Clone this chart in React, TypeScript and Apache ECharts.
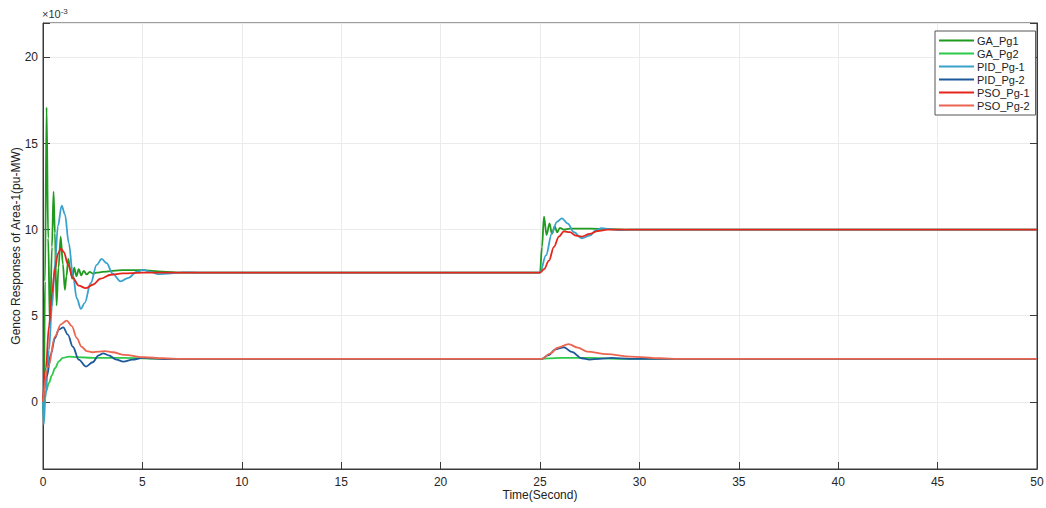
import React, { useEffect, useRef } from "react";
import * as echarts from "echarts";

const seriesNames = ["GA_Pg1", "GA_Pg2", "PID_Pg-1", "PID_Pg-2", "PSO_Pg-1", "PSO_Pg-2"];
const seriesColors = ["#1f9a1f", "#2fc94a", "#38a2cc", "#1d5a9c", "#e4261c", "#ec6550"];

const xTicks = [0, 5, 10, 15, 20, 25, 30, 35, 40, 45, 50];
const yTicks = [0, 5, 10, 15, 20];

// values in units of 1e-3 pu-MW, time in seconds
const gaPg1 = [
  [0, 0], [0.04, -0.9], [0.1, 7], [0.18, 17.1], [0.26, 9.5], [0.35, 4.3], [0.45, 9], [0.53, 12.2],
  [0.6, 9.8], [0.68, 5.6], [0.78, 7.8], [0.89, 9.6], [1.0, 8.0], [1.1, 6.5], [1.18, 7.3], [1.27, 8.3],
  [1.37, 7.7], [1.47, 7.15], [1.57, 7.8], [1.68, 7.3], [1.8, 7.7], [1.92, 7.35], [2.05, 7.6], [2.2, 7.4],
  [2.35, 7.55], [2.5, 7.45], [2.7, 7.5], [3.0, 7.55], [4, 7.65], [5, 7.65], [6, 7.56], [7, 7.5], [8, 7.5],
  [24.95, 7.5], [25.0, 7.5], [25.1, 9.0], [25.2, 10.75], [25.33, 9.69], [25.48, 10.36], [25.6, 9.75],
  [25.74, 10.2], [25.86, 9.85], [26.0, 10.1], [26.2, 10.0], [26.5, 10.06], [27.5, 10.06], [28.5, 10.03],
  [29.5, 10.0], [50, 10],
];
const gaPg2 = [
  [0, 0], [0.15, 0.6], [0.3, 1.1], [0.45, 1.55], [0.6, 1.95], [0.8, 2.35], [1.0, 2.55], [1.3, 2.63],
  [1.7, 2.6], [2.5, 2.55], [4, 2.55], [6, 2.5], [25, 2.5], [26, 2.55], [27.5, 2.55], [29, 2.5], [50, 2.5],
];
const pidPg1 = [
  [0, 0], [0.04, -1.3], [0.12, 0.2], [0.3, 3], [0.45, 5.5], [0.6, 8], [0.75, 10.2], [0.94, 11.4],
  [1.1, 10.9], [1.3, 9.2], [1.5, 7.4], [1.7, 6], [1.91, 5.4], [2.1, 5.75], [2.4, 6.9], [2.7, 7.95],
  [2.95, 8.3], [3.2, 8.05], [3.5, 7.45], [3.9, 7.0], [4.3, 7.2], [4.7, 7.55], [5.05, 7.66], [5.4, 7.55],
  [5.8, 7.42], [6.3, 7.45], [7, 7.52], [8, 7.5], [24.95, 7.5], [25.0, 7.5], [25.3, 8.5], [25.6, 9.8],
  [25.85, 10.45], [26.1, 10.65], [26.4, 10.35], [26.7, 9.85], [27.1, 9.5], [27.5, 9.65], [27.8, 9.95],
  [28.1, 10.08], [28.5, 10.03], [29, 9.97], [29.6, 10.0], [50, 10],
];
const pidPg2 = [
  [0, 0], [0.2, 1.5], [0.4, 2.8], [0.6, 3.7], [0.8, 4.2], [1.02, 4.33], [1.25, 3.9], [1.5, 3.2],
  [1.8, 2.45], [2.16, 2.05], [2.5, 2.3], [2.8, 2.7], [3.03, 2.82], [3.3, 2.7], [3.7, 2.45], [4.04, 2.34],
  [4.5, 2.45], [5, 2.55], [5.5, 2.53], [6, 2.48], [7, 2.5], [25.1, 2.5], [25.4, 2.7], [25.8, 3.05],
  [26.2, 3.17], [26.6, 2.9], [27.1, 2.53], [27.5, 2.45], [28, 2.5], [28.6, 2.55], [29.5, 2.5], [50, 2.5],
];
const psoPg1 = [
  [0, 0], [0.15, 2.0], [0.3, 4.4], [0.45, 6.3], [0.6, 7.7], [0.75, 8.6], [0.9, 8.9], [1.05, 8.7],
  [1.25, 8.0], [1.5, 7.2], [1.8, 6.75], [2.15, 6.6], [2.5, 6.8], [2.9, 7.15], [3.4, 7.38], [4, 7.46],
  [5, 7.5], [24.95, 7.5], [25.0, 7.5], [25.2, 7.7], [25.45, 8.2], [25.7, 9.0], [25.95, 9.6], [26.2, 9.9],
  [26.5, 9.85], [26.8, 9.65], [27.1, 9.6], [27.5, 9.75], [27.9, 9.92], [28.4, 10.0], [29, 10.0], [50, 10],
];
const psoPg2 = [
  [0, 0], [0.27, 2.05], [0.6, 3.79], [0.9, 4.5], [1.19, 4.72], [1.45, 4.4], [1.7, 3.7], [1.94, 3.2],
  [2.2, 2.95], [2.5, 2.88], [2.8, 2.92], [3.12, 2.95], [3.5, 2.88], [4.1, 2.73], [5.1, 2.59], [6, 2.53],
  [7, 2.5], [25.1, 2.5], [25.5, 2.8], [25.9, 3.15], [26.44, 3.35], [26.9, 3.15], [27.36, 2.92],
  [28.37, 2.77], [29.54, 2.63], [31.05, 2.53], [32, 2.5], [50, 2.5],
];

const seriesData = [gaPg1, gaPg2, pidPg1, pidPg2, psoPg1, psoPg2];

export default function App() {
  const ref = useRef<HTMLDivElement>(null);
  useEffect(() => {
    if (!ref.current) return;
    const chart = echarts.init(ref.current, undefined, { renderer: "svg" });
    const font = "Liberation Sans, Arial, sans-serif";
    const axisColor = "#3a3a3a";
    const yFmt = (v: number) => (yTicks.indexOf(Math.round(v * 1000) / 1000) >= 0 ? String(v) : "");
    chart.setOption({
      animation: false,
      backgroundColor: "#ffffff",
      textStyle: { fontFamily: font },
      grid: {
        left: 43, right: 9, top: 23, bottom: 39,
        outerBoundsMode: "none",
        containLabel: false,
        show: true, borderColor: axisColor, borderWidth: 1, backgroundColor: "transparent",
      },
      legend: {
        orient: "vertical",
        left: 935,
        top: 31,
        data: seriesNames,
        icon: "rect",
        itemWidth: 35,
        itemHeight: 2,
        itemGap: 0,
        padding: [3, 6, 3, 4],
        borderColor: "#555",
        borderWidth: 1,
        backgroundColor: "#ffffff",
        textStyle: { fontSize: 11, color: "#222", fontFamily: font, lineHeight: 13, padding: [0, 0, 0, -2] },
      },
      xAxis: {
        type: "value",
        min: 0,
        max: 50,
        interval: 5,
        name: "Time(Second)",
        nameLocation: "middle",
        nameGap: 20,
        nameMoveOverlap: false,
        nameTextStyle: { fontSize: 12, color: "#222", fontFamily: font },
        axisLine: { show: true, onZero: false, lineStyle: { color: axisColor } },
        axisTick: { show: true, inside: true, length: 7, lineStyle: { color: axisColor } },
        axisLabel: { fontSize: 12, color: "#262626", margin: 7, fontFamily: font, formatter: (v: number) => (xTicks.indexOf(v) >= 0 ? String(v) : "") },
        splitLine: { show: true, lineStyle: { color: "#ebebeb", width: 1 } },
      },
      yAxis: [
        {
          type: "value",
          min: -3.9,
          max: 22,
          splitNumber: 5,
          name: "Genco Responses of Area-1(pu-MW)",
          nameLocation: "middle",
          nameGap: 21,
          nameRotate: 90,
          nameMoveOverlap: false,
          nameTextStyle: { fontSize: 12, color: "#222", fontFamily: font },
          axisLine: { show: true, onZero: false, lineStyle: { color: axisColor } },
          axisTick: { show: true, inside: true, length: 7, lineStyle: { color: axisColor } },
          axisLabel: { fontSize: 12, color: "#262626", margin: 5, fontFamily: font, formatter: yFmt },
          splitLine: { show: true, lineStyle: { color: "#ebebeb", width: 1 } },
        },
        {
          type: "value",
          position: "right",
          min: -3.9,
          max: 22,
          splitNumber: 5,
          axisLine: { show: true, onZero: false, lineStyle: { color: axisColor } },
          axisTick: { show: true, inside: true, length: 7, lineStyle: { color: axisColor } },
          axisLabel: { show: false },
          splitLine: { show: false },
        },
      ],
      graphic: [
        {
          type: "text",
          left: 42,
          top: 7,
          style: {
            text: "{a|×10}{b|-3}",
            rich: {
              a: { fontSize: 11, fill: "#333", fontFamily: font },
              b: { fontSize: 8, fill: "#333", fontFamily: font, verticalAlign: "top", padding: [0, 0, 6, 0] },
            },
          },
        },
      ],
      series: seriesData.map((d, i) => ({
        name: seriesNames[i],
        type: "line",
        data: d,
        yAxisIndex: 0,
        symbol: "none",
        smooth: 0.35,
        smoothMonotone: "x",
        lineStyle: { color: seriesColors[i], width: 1.8 },
        itemStyle: { color: seriesColors[i] },
        z: 2,
      })),
    });
    return () => chart.dispose();
  }, []);
  return <div ref={ref} style={{ position: "fixed", left: 0, top: 0, width: 1046, height: 508, background: "#fff" }} />;
}
